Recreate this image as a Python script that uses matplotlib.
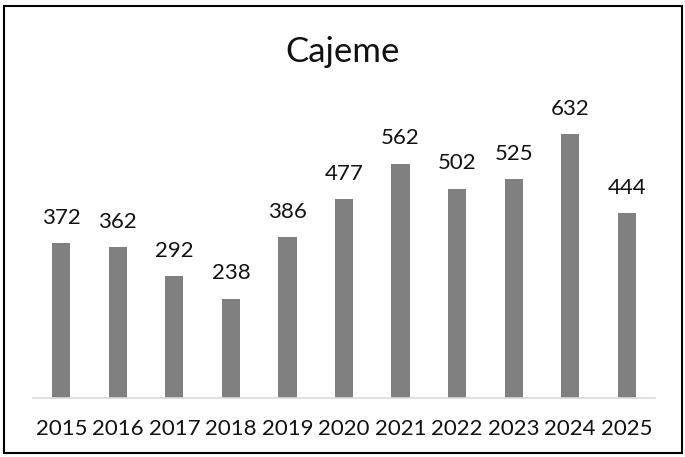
import matplotlib.pyplot as plt
from matplotlib.patches import Rectangle

plt.rcParams['font.family'] = ['Lato', 'DejaVu Sans']

years = ['2015', '2016', '2017', '2018', '2019', '2020', '2021', '2022', '2023', '2024', '2025']
valores = [372, 362, 292, 238, 386, 477, 562, 502, 525, 632, 444]

W, H = 685, 457
fig = plt.figure(figsize=(W / 100, H / 100), dpi=100)
ax = fig.add_axes([33 / W, 1 - 398 / H, (655 - 33) / W, (398 - 106) / H])

x = range(len(years))
bars = ax.bar(x, valores, width=0.32, color='#808080')
ax.set_xlim(-0.5, len(years) - 0.5)
ax.set_ylim(0, 700)

for xi, v in zip(x, valores):
    ax.annotate(str(v), (xi, v), xytext=(0, 11), textcoords='offset points',
                ha='center', va='bottom', fontsize=16, color='#111111')

ax.set_xticks(list(x))
ax.set_xticklabels(years, fontsize=16, color='#111111')
ax.tick_params(axis='x', length=0, pad=15)
ax.set_yticks([])
for s in ['top', 'right', 'left']:
    ax.spines[s].set_visible(False)
ax.spines['bottom'].set_color('#d9d9d9')
ax.spines['bottom'].set_linewidth(1.2)

fig.text(0.5, 1 - 52 / H, 'Cajeme', ha='center', va='center', fontsize=25, color='#111111')

fig.patches.append(Rectangle((4 / W, 1 - 453 / H), (682 - 4) / W, (453 - 6) / H,
                             transform=fig.transFigure, fill=False,
                             edgecolor='black', linewidth=1.5))

fig.savefig('out.png', dpi=100)
